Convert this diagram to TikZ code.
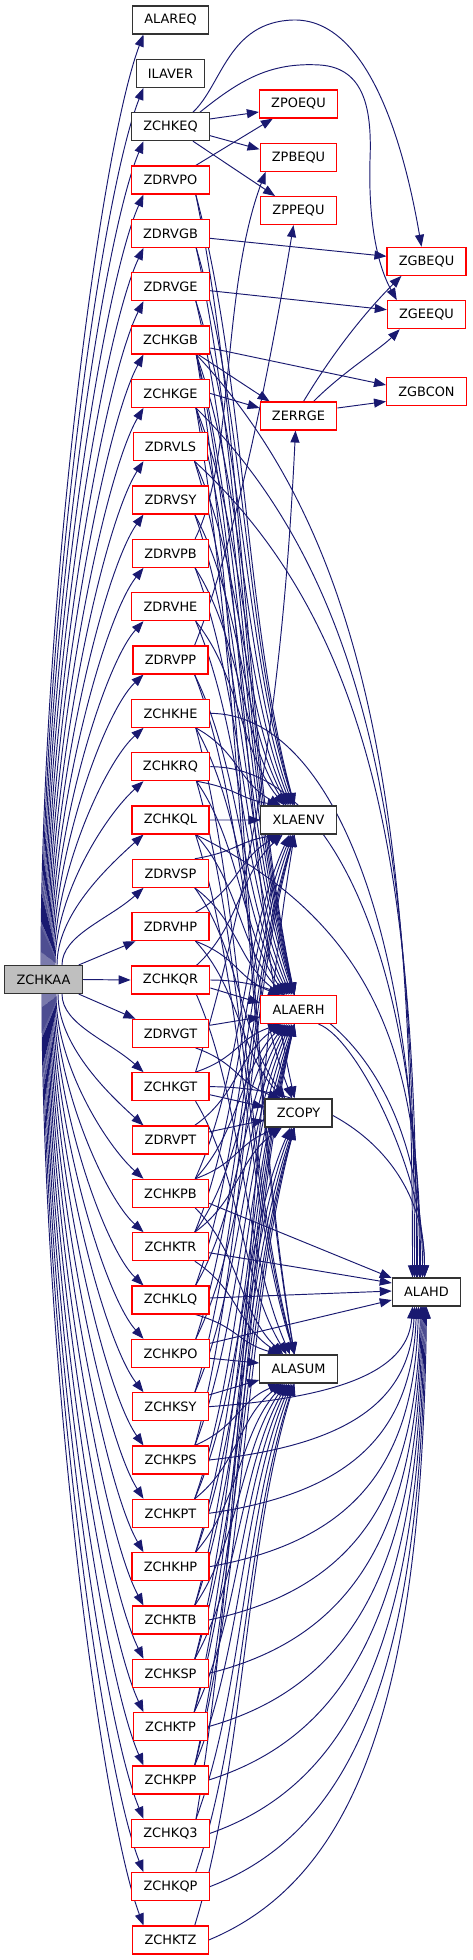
\documentclass[tikz,border=0pt]{standalone}
\usepackage{fontspec}
\setmainfont{DejaVu Sans}
\usetikzlibrary{arrows.meta,calc}
\definecolor{mblue}{HTML}{191970}
\pgfdeclarelayer{bg}
\pgfsetlayers{bg,main}
\newcommand\nfont{\fontsize{12.9pt}{15pt}\selectfont}
\tikzset{
  nb/.style={draw=black!80, line width=1.1pt, fill=white, rectangle, minimum height=28pt,
             inner xsep=11.8pt, inner ysep=0pt, font=\nfont},
  nr/.style={nb, draw=red},
  e/.style={draw=mblue, line width=0.95pt, -{Triangle[length=12pt,width=9pt]}, mblue}
}
% down edge: col2 -> top of col3 node
\newcommand\EdgeD[2]{\draw[e] let \p1=([xshift=-14pt]#1.south east), \p2=(#2.north),
  \n1={\y1-\y2}, \n2={-4-16*max(0,1-\n1/500)}, \p3=({\x2+\n2},\y2) in
  (\p1) .. controls ({\x1+0.5*(\x3-\x1)},{\y1-0.3*\n1}) and ({\x3-0.5*(\x3-\x1)},{\y3+0.3*\n1}) .. (\p3);}
% up edge: col2 -> bottom of col3 node
\newcommand\EdgeU[2]{\draw[e] let \p1=([xshift=-14pt]#1.north east), \p2=(#2.south),
  \n1={\y2-\y1}, \n2={-4-16*max(0,1-\n1/500)}, \p3=({\x2+\n2},\y2) in
  (\p1) .. controls ({\x1+0.5*(\x3-\x1)},{\y1+0.3*\n1}) and ({\x3-0.5*(\x3-\x1)},{\y3-0.3*\n1}) .. (\p3);}
% to ALAHD top, from south east corner
\newcommand\EdgeHD[2]{\draw[e] let \p1=([xshift=-14pt]#1.south east), \p2=([shift={(#2,0)}]ALAHD.north) in
  (\p1) .. controls ({\x1+0.8*(\x2-\x1)},{\y1-0.2*(\y1-\y2)}) and ({\x2},{\y2+0.5*(\y1-\y2)}) .. (\p2);}
% to ALAHD top, from east side
\newcommand\EdgeHE[2]{\draw[e] let \p1=(#1.east), \p2=([shift={(#2,0)}]ALAHD.north) in
  (\p1) .. controls ({\x1+0.6*(\x2-\x1)},{\y1}) and ({\x2},{\y2+0.6*(\y1-\y2)}) .. (\p2);}
% to ALAHD bottom, from east side
\newcommand\EdgeHU[2]{\draw[e] let \p1=(#1.east), \p2=([shift={(#2,0)}]ALAHD.south) in
  (\p1) .. controls ({\x1+0.7*(\x2-\x1)},{\y1+0.1*(\y2-\y1)}) and ({\x2-0.02*(\x2-\x1)},{\y2-0.6*(\y2-\y1)}) .. (\p2);}

\begin{document}
\begin{tikzpicture}[x=1pt,y=1pt]
\useasboundingbox (0,0) rectangle (472,-1960);

% ---- nodes
\node[nb, fill=black!25] (ZCHKAA) at (43.5,-979.5) {ZCHKAA};
\node[nb] (ALAREQ) at (170.5,-20) {ALAREQ};
\node[nb] (ILAVER) at (170.5,-73.33) {ILAVER};
\node[nb] (ZCHKEQ) at (170.5,-126.67) {ZCHKEQ};
\foreach \n [count=\i from 3] in {ZDRVPO,ZDRVGB,ZDRVGE,ZCHKGB,ZCHKGE,ZDRVLS,ZDRVSY,ZDRVPB,ZDRVHE,ZDRVPP,
  ZCHKHE,ZCHKRQ,ZCHKQL,ZDRVSP,ZDRVHP,ZCHKQR,ZDRVGT,ZCHKGT,ZDRVPT,ZCHKPB,ZCHKTR,ZCHKLQ,ZCHKPO,
  ZCHKSY,ZCHKPS,ZCHKPT,ZCHKHP,ZCHKTB,ZCHKSP,ZCHKTP,ZCHKPP,ZCHKQ3,ZCHKQP,ZCHKTZ}
  \node[nr] (\n) at (170.5,{-20-53.333*\i}) {\n};

\node[nr] (ZPOEQU) at (298.5,-104) {ZPOEQU};
\node[nr] (ZPBEQU) at (298.5,-157.3) {ZPBEQU};
\node[nr] (ZPPEQU) at (298.5,-210.6) {ZPPEQU};
\node[nr] (ZERRGE) at (298.5,-416) {ZERRGE};
\node[nb] (XLAENV) at (298.5,-820) {XLAENV};
\node[nr] (ALAERH) at (298.5,-1009.5) {ALAERH};
\node[nb] (ZCOPY) at (298.5,-1113) {ZCOPY};
\node[nb] (ALASUM) at (298.5,-1369) {ALASUM};

\node[nr] (ZGBEQU) at (426.5,-261.3) {ZGBEQU};
\node[nr] (ZGEEQU) at (426.5,-314.7) {ZGEEQU};
\node[nr] (ZGBCON) at (426.5,-391.5) {ZGBCON};
\node[nb] (ALAHD) at (426.5,-1292) {ALAHD};

\begin{pgfonlayer}{bg}
% ---- ZCHKAA fan-out
\foreach \t/\sx [count=\i from 0] in {ALAREQ/41,ILAVER/42,ZCHKEQ/43,ZDRVPO/44,ZDRVGB/45,ZDRVGE/46,
  ZCHKGB/47,ZCHKGE/48,ZDRVLS/49,ZDRVSY/50,ZDRVPB/51,ZDRVHE/52,ZDRVPP/53,ZCHKHE/54,ZCHKRQ/55,
  ZCHKQL/57,ZDRVSP/62}{
  \pgfmathsetmacro\dyy{966-(20+53.333*\i+14)}
  \pgfmathsetmacro\dxx{143.5-\sx}
  \pgfmathsetmacro\cca{0.38*\dyy}
  \pgfmathsetmacro\ccx{0.43*\dxx}
  \pgfmathsetmacro\ccy{max(0.125*\dyy,0.9*\ccx)}
  \pgfmathsetmacro\xs{\sx-43.5}
  \draw[e] ([shift={(\xs,0)}]ZCHKAA.north) .. controls +(0,\cca) and +(-\ccx,-\ccy) .. ([xshift=-27pt]\t.south);
}
\foreach \t/\sx [count=\i from 20] in {ZCHKGT/62,ZDRVPT/58,ZCHKPB/56,ZCHKTR/55,ZCHKLQ/54,ZCHKPO/53,
  ZCHKSY/52,ZCHKPS/51,ZCHKPT/50,ZCHKHP/49,ZCHKTB/48,ZCHKSP/47,ZCHKTP/46,ZCHKPP/45,ZCHKQ3/44,
  ZCHKQP/43,ZCHKTZ/42}{
  \pgfmathsetmacro\dyy{(20+53.333*\i-14)-993}
  \pgfmathsetmacro\dxx{143.5-\sx}
  \pgfmathsetmacro\cca{0.38*\dyy}
  \pgfmathsetmacro\ccx{0.43*\dxx}
  \pgfmathsetmacro\ccy{max(0.125*\dyy,0.9*\ccx)}
  \pgfmathsetmacro\xs{\sx-43.5}
  \draw[e] ([shift={(\xs,0)}]ZCHKAA.south) .. controls +(0,-\cca) and +(-\ccx,\ccy) .. ([xshift=-27pt]\t.north);
}
\draw[e] ([xshift=-4pt]ZCHKAA.north east) -- ([xshift=4pt]ZDRVHP.south west);
\draw[e] (ZCHKAA.east) -- (ZCHKQR.west);
\draw[e] ([xshift=-4pt]ZCHKAA.south east) -- ([xshift=4pt]ZDRVGT.north west);

% ---- top group
\draw[e] ([yshift=7.7pt]ZCHKEQ.east) -- ([yshift=-8pt]ZPOEQU.west);
\draw[e] ([yshift=-9pt]ZCHKEQ.east) -- ([yshift=8pt]ZPBEQU.west);
\draw[e] ([xshift=-17pt]ZCHKEQ.south east) -- ([xshift=15pt]ZPPEQU.north west);
\draw[e] ([xshift=-17pt]ZCHKEQ.north east) .. controls (222,-85) and (228,-22) .. (293,-20)
   .. controls (370,-18) and (405,-150) .. ([xshift=-5pt]ZGBEQU.north);
\draw[e] ([xshift=-10pt]ZCHKEQ.north east) .. controls (240,-80) and (270,-62) .. (320,-65)
   .. controls (365,-68) and (372,-110) .. (370,-160)
   .. controls (368,-230) and (380,-270) .. ([xshift=10pt]ZGEEQU.north west);
\draw[e] ([xshift=-14pt]ZDRVPO.north east) -- ([xshift=14pt]ZPOEQU.south west);
\draw[e] ([xshift=-14pt]ZDRVPB.north east) .. controls +(40,80) and +(-45,-120) .. ([xshift=6pt]ZPBEQU.south west);
\draw[e] ([xshift=-14pt]ZDRVPP.north east) .. controls +(40,100) and +(-25,-150) .. ([xshift=-5pt]ZPPEQU.south);
\draw[e] ([yshift=-5pt]ZDRVGB.east) -- ([yshift=5pt]ZGBEQU.west);
\draw[e] ([yshift=-4pt]ZDRVGE.east) -- ([yshift=5pt]ZGEEQU.west);
\draw[e] ([yshift=-8pt]ZCHKGB.east) -- ([yshift=6.5pt]ZGBCON.west);
\draw[e] ([xshift=-12pt]ZCHKGB.south east) -- ([xshift=10pt]ZERRGE.north west);
\draw[e] (ZCHKGE.east) -- ([yshift=8pt]ZERRGE.west);
\draw[e] ([xshift=5pt]ZERRGE.north) .. controls +(30,50) and +(-35,-35) .. ([xshift=15pt]ZGBEQU.south west);
\draw[e] ([xshift=15pt]ZERRGE.north) .. controls +(30,30) and +(-20,-20) .. ([xshift=13pt]ZGEEQU.south west);
\draw[e] ([yshift=8pt]ZERRGE.east) -- ([yshift=-10pt]ZGBCON.west);
\draw[e] ([xshift=-14pt]ZCHKGT.north east) .. controls +(60,200) and +(-12,-250) .. ([xshift=-3pt]ZERRGE.south);

% ---- XLAENV
\foreach \s in {ZDRVPO,ZDRVGB,ZDRVGE,ZCHKGB,ZCHKGE,ZDRVLS,ZDRVSY,ZDRVPB,ZDRVHE,ZCHKHE,ZCHKRQ}
  \EdgeD{\s}{XLAENV};
\draw[e] (ZCHKQL.east) -- (XLAENV.west);
\foreach \s in {ZDRVSP,ZDRVHP,ZCHKQR,ZCHKPB,ZCHKTR,ZCHKLQ,ZCHKPO,ZCHKSY,ZCHKPS,ZCHKQ3}
  \EdgeU{\s}{XLAENV};

% ---- ALAERH
\foreach \s in {ZDRVPO,ZDRVGB,ZDRVGE,ZCHKGB,ZCHKGE,ZDRVLS,ZDRVSY,ZDRVPB,ZDRVHE,ZDRVPP,ZCHKHE,
  ZCHKRQ,ZCHKQL,ZDRVSP,ZDRVHP}
  \EdgeD{\s}{ALAERH};
\draw[e] ([yshift=-8pt]ZCHKQR.east) -- ([yshift=6.5pt]ALAERH.west);
\draw[e] ([yshift=8pt]ZDRVGT.east) -- ([yshift=-7.5pt]ALAERH.west);
\foreach \s in {ZCHKGT,ZDRVPT,ZCHKPB,ZCHKTR,ZCHKLQ,ZCHKPO,ZCHKSY,ZCHKPS,ZCHKPT,ZCHKHP,ZCHKTB,
  ZCHKSP,ZCHKTP,ZCHKPP}
  \EdgeU{\s}{ALAERH};

% ---- ZCOPY
\foreach \s in {ZCHKGB,ZDRVPP,ZDRVSP,ZDRVHP,ZDRVGT}
  \EdgeD{\s}{ZCOPY};
\draw[e] ([yshift=-8pt]ZCHKGT.east) -- ([yshift=6pt]ZCOPY.west);
\draw[e] ([yshift=8pt]ZDRVPT.east) -- ([yshift=-7pt]ZCOPY.west);
\foreach \s in {ZCHKPB,ZCHKTR,ZCHKPT,ZCHKHP,ZCHKTB,ZCHKSP,ZCHKTP,ZCHKPP}
  \EdgeU{\s}{ZCOPY};

% ---- ALASUM
\foreach \s in {ZCHKGB,ZCHKGE,ZCHKHE,ZCHKRQ,ZCHKQL,ZCHKQR,ZCHKGT,ZCHKPB,ZCHKTR,ZCHKLQ}
  \EdgeD{\s}{ALASUM};
\draw[e] ([yshift=-5pt]ZCHKPO.east) -- ([yshift=6pt]ALASUM.west);
\draw[e] ([yshift=11.7pt]ZCHKSY.east) -- ([yshift=-11pt]ALASUM.west);
\foreach \s in {ZCHKPS,ZCHKPT,ZCHKHP,ZCHKTB,ZCHKSP,ZCHKTP,ZCHKPP,ZCHKQ3,ZCHKQP,ZCHKTZ}
  \EdgeU{\s}{ALASUM};

% ---- ALAHD
\foreach \s/\o in {ZCHKGB/-14,ZCHKGE/-12,ZDRVLS/-10,ZCHKQL/-6}
  \EdgeHD{\s}{\o};
\foreach \s/\o in {ZCHKHE/-9,ZCHKRQ/-7,ZCHKQR/-4,ZCHKGT/-2}
  \EdgeHE{\s}{\o};
\draw[e] ([yshift=-10pt]ZCHKPB.east) -- ([yshift=14pt]ALAHD.west);
\draw[e] ([yshift=-6pt]ZCHKTR.east) -- ([yshift=9pt]ALAHD.west);
\draw[e] ([yshift=2pt]ZCHKLQ.east) -- ([yshift=1pt]ALAHD.west);
\draw[e] ([yshift=10pt]ZCHKPO.east) -- ([yshift=-8pt]ALAHD.west);
\foreach \s/\o in {ZCHKSY/-14,ZCHKPS/-12,ZCHKPT/-10,ZCHKHP/-8,ZCHKTB/-6,ZCHKSP/-5,ZCHKTP/-4,
  ZCHKPP/-3,ZCHKQ3/-2,ZCHKQP/-1,ZCHKTZ/0}
  \EdgeHU{\s}{\o};
\draw[e] ([xshift=20pt]ALAERH.south) .. controls +(40,-15) and +(0,100) .. ([xshift=-2pt]ALAHD.north);
\end{pgfonlayer}
\end{tikzpicture}
\end{document}
